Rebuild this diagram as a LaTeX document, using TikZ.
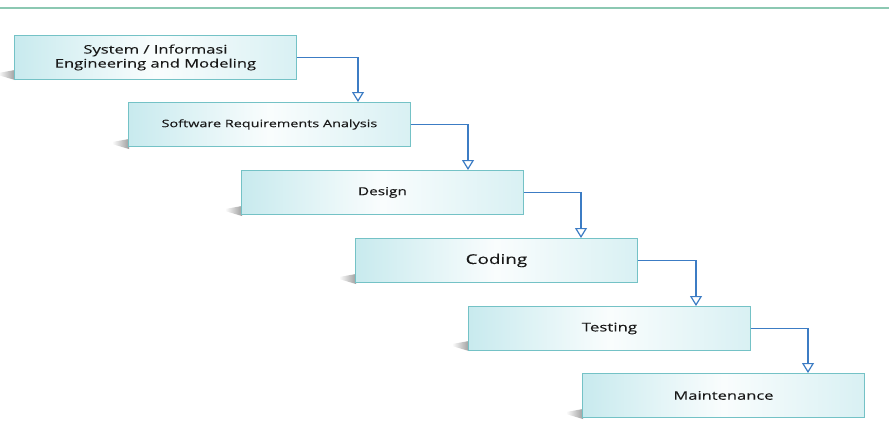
\documentclass[tikz,border=0pt]{standalone}
\usepackage{fontspec}
\setmainfont{Open Sans}
\newfontfamily\boxfont[FakeStretch=1.4,FakeBold=0.12]{Open Sans}
\usetikzlibrary{arrows.meta}
\definecolor{boxedge}{HTML}{74C2C6}
\definecolor{boxfill}{HTML}{C8EAEE}
\definecolor{arrblue}{HTML}{3C7CC4}
\definecolor{topline}{HTML}{8CC8B2}
\tikzset{
  stepbox/.style={draw=boxedge, line width=0.9pt, minimum width=282pt, minimum height=44pt,
    anchor=north west, inner sep=0pt, text=black!90,
    left color=boxfill, right color=boxfill!70, middle color=white!90!boxfill},
  flow/.style={draw=arrblue, line width=1.4pt,
    -{Triangle[width=12pt,length=10pt,fill=white,line width=1.2pt]}},
  shadowwedge/.style={left color=white, right color=black!38}
}
\begin{document}
\begin{tikzpicture}[x=1pt,y=-1pt]
\useasboundingbox (0,0) rectangle (889,421);
\draw[topline, line width=1.4pt] (0,8) -- (889,8);
% shadows
\foreach \x/\y in {14/78,128/147,241/214,355/282,468/349,582/417}{
  \shade[shadowwedge] (\x-16,\y-5) .. controls (\x-8,\y-7) .. (\x+1,\y-8) -- (\x+1,\y+2) .. controls (\x-6,\y) .. (\x-16,\y-3) -- cycle;
}
\node[stepbox, font=\boxfont\fontsize{11.8}{14}\selectfont, align=center] (b1) at (14,35) {System / Informasi\\Engineering and Modeling};
\node[stepbox, font=\boxfont\fontsize{10.3}{12}\selectfont] (b2) at (128,102) {Software Requirements Analysis};
\node[stepbox, font=\boxfont\fontsize{11}{12}\selectfont] (b3) at (241,170) {Design};
\node[stepbox, font=\boxfont\fontsize{13.5}{15}\selectfont] (b4) at (355,238) {Coding};
\node[stepbox, font=\boxfont\fontsize{12}{13}\selectfont] (b5) at (468,306) {Testing};
\node[stepbox, font=\boxfont\fontsize{11.8}{13}\selectfont] (b6) at (582,373) {Maintenance};
\draw[flow] (b1.east) -| ([xshift=230pt]b2.north west);
\draw[flow] (b2.east) -| ([xshift=227pt]b3.north west);
\draw[flow] (b3.east) -| ([xshift=226pt]b4.north west);
\draw[flow] (b4.east) -| ([xshift=228pt]b5.north west);
\draw[flow] (b5.east) -| ([xshift=226pt]b6.north west);
\end{tikzpicture}
\end{document}
